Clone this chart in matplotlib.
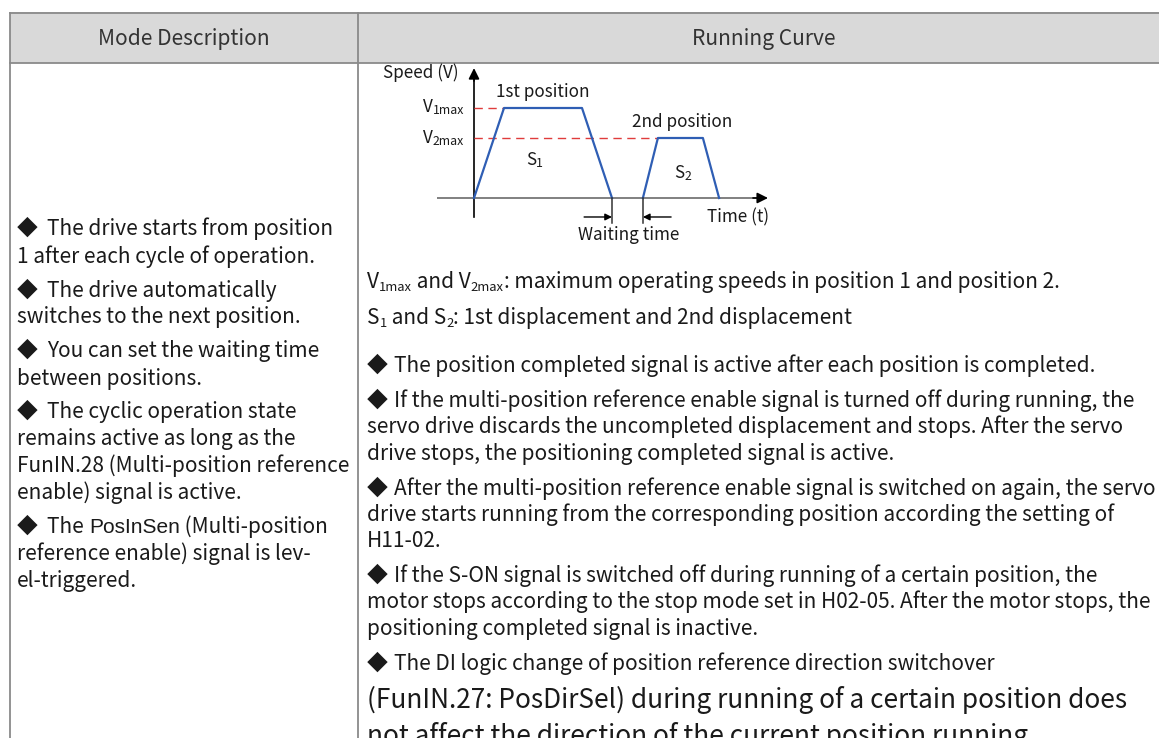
import matplotlib
matplotlib.use("Agg")
import matplotlib.pyplot as plt
from matplotlib.font_manager import FontProperties

W, H = 1159, 738
FONT = ['Noto Sans CJK SC', 'DejaVu Sans']
ARIAL = ['Liberation Sans', 'DejaVu Sans']

# ---------------- data ----------------
headers = ["Mode Description", "Running Curve"]

seg1_t = [0.0, 1.0, 3.6, 4.6]
seg1_v = [0.0, 3.0, 3.0, 0.0]
seg2_t = [5.63, 6.13, 7.63, 8.17]
seg2_v = [0.0, 2.0, 2.0, 0.0]
v1max = 3.0
v2max = 2.0
wait_start = 4.6
wait_end = 5.63

left_lines = [
    [("◆ The drive starts from position", "n")],
    [("1 after each cycle of operation.", "n")],
    [("◆ The drive automatically", "n")],
    [("switches to the next position.", "n")],
    [("◆ You can set the waiting time", "n")],
    [("between positions.", "n")],
    [("◆ The cyclic operation state", "n")],
    [("remains active as long as the", "n")],
    [("FunIN.28 (Multi-position reference", "n")],
    [("enable) signal is active.", "n")],
    [("◆ The ", "n"), ("PosInSen", "a"), (" (Multi-position", "n")],
    [("reference enable) signal is lev-", "n")],
    [("el-triggered.", "n")],
]
right_lines = [
    [("V", "n"), ("1max", "s"), (" and V", "n"), ("2max", "s"),
     (": maximum operating speeds in position 1 and position 2.", "n")],
    [("S", "n"), ("1", "s"), (" and S", "n"), ("2", "s"), (": 1st displacement and 2nd displacement", "n")],
    [("◆ The position completed signal is active after each position is completed.", "n")],
    [("◆ If the multi-position reference enable signal is turned off during running, the", "n")],
    [("servo drive discards the uncompleted displacement and stops. After the servo", "n")],
    [("drive stops, the positioning completed signal is active.", "n")],
    [("◆ After the multi-position reference enable signal is switched on again, the servo", "n")],
    [("drive starts running from the corresponding position according the setting of", "n")],
    [("H11-02.", "n")],
    [("◆ If the S-ON signal is switched off during running of a certain position, the", "n")],
    [("motor stops according to the stop mode set in H02-05. After the motor stops, the", "n")],
    [("positioning completed signal is inactive.", "n")],
    [("◆ The DI logic change of position reference direction switchover", "n")],
    [("(FunIN.27: PosDirSel) during running of a certain position does", "n")],
    [("not affect the direction of the current position running.", "n")],
]

# ---------------- layout ----------------
left_base = [235, 263, 297, 323, 357, 385, 418, 445, 472, 499, 533, 560, 587]
right_base = [288, 324, 372, 407, 433, 460, 495, 521, 547, 582, 608, 635, 670, 708, 744]
right_size = [15.05] * 13 + [18.9, 18.9]

fig = plt.figure(figsize=(W / 100, H / 100), dpi=100)
renderer = fig.canvas.get_renderer()

TXT = '#1a1a1a'
LINE = '#8a8a8a'


def fx(x):
    return x / W


def fy(y):
    return 1 - y / H


def width(s, prop):
    a = renderer.get_text_width_height_descent("|" + s + "|", prop, False)[0]
    b = renderer.get_text_width_height_descent("||", prop, False)[0]
    return a - b


def rich(x, y, segs, size, color=TXT, sub=0.62, bullet_gap=0.0):
    cx = x
    for txt, kind in segs:
        if kind == 's':
            fam, sz, dy = FONT, size * sub, size * 0.17
        elif kind == 'a':
            fam, sz, dy = ARIAL, size * 1.0, 0
        else:
            fam, sz, dy = FONT, size, 0
        prop = FontProperties(family=fam, size=sz)
        if bullet_gap and txt.startswith("◆ "):
            fig.text(fx(cx), fy(y), "◆", fontproperties=prop, color=color,
                     ha='left', va='baseline')
            cx += width("◆ ", prop) + bullet_gap
            txt = txt[2:]
        fig.text(fx(cx), fy(y + dy), txt, fontproperties=prop, color=color,
                 ha='left', va='baseline')
        cx += width(txt, prop)


# table
TOP, HB, LX, DX = 12.5, 63, 9.5, 358
fig.patches.append(plt.Rectangle((fx(LX), fy(HB)), fx(1159) - fx(LX), fy(TOP) - fy(HB),
                                 transform=fig.transFigure, facecolor='#d9d9d9',
                                 edgecolor='none', zorder=0))
for (x0, y0, x1, y1) in [(LX, TOP, 1159, TOP), (LX, HB, 1159, HB),
                         (LX, TOP, LX, 738), (DX, TOP, DX, 738)]:
    fig.add_artist(plt.Line2D([fx(x0), fx(x1)], [fy(y0), fy(y1)], color=LINE, lw=1.3,
                              transform=fig.transFigure))

fig.text(fx(184), fy(45.5), headers[0], family=FONT, fontsize=15.1, color='#333333',
         ha='center', va='baseline')
fig.text(fx(764), fy(45.5), headers[1], family=FONT, fontsize=15.1, color='#333333',
         ha='center', va='baseline')

for segs, b in zip(left_lines, left_base):
    rich(17, b, segs, 15.0, bullet_gap=5)
for segs, b, s in zip(right_lines, right_base, right_size):
    rich(367, b, segs, s, bullet_gap=2)

# ---------------- diagram ----------------
ax = fig.add_axes([fx(430), fy(250), (350) / W, (190) / H])
ax.set_xlim(-44 / 30, 306 / 30)
ax.set_ylim(-52 / 30, 138 / 30)
ax.axis('off')

BLUE = '#2f5eb4'
RED = '#e03c3c'

# axes
ax.plot([-37 / 30, 9.55], [0, 0], color='#808080', lw=1.4, solid_capstyle='butt')
ax.annotate('', xy=(9.8, 0), xytext=(9.3, 0),
            arrowprops=dict(arrowstyle='-|>', color='black', lw=1.2, mutation_scale=16,
                            shrinkA=0, shrinkB=0))
ax.plot([0, 0], [-0.63, 4.0], color='black', lw=1.2)
ax.annotate('', xy=(0, 4.33), xytext=(0, 3.9),
            arrowprops=dict(arrowstyle='-|>', color='black', lw=1.2, mutation_scale=16,
                            shrinkA=0, shrinkB=0))

# reference dashes
ax.plot([0, seg1_t[1]], [v1max, v1max], color=RED, lw=1.0, dashes=(6, 4))
ax.plot([0, seg2_t[1]], [v2max, v2max], color=RED, lw=1.0, dashes=(6, 4))

# curves
ax.plot(seg1_t, seg1_v, color=BLUE, lw=1.6)
ax.plot(seg2_t, seg2_v, color=BLUE, lw=1.6)

# waiting time markers
for t in (wait_start, wait_end):
    ax.plot([t, t], [0, -0.83], color='#333333', lw=1.1)
ax.annotate('', xy=(wait_start, -0.633), xytext=(wait_start - 0.93, -0.633),
            arrowprops=dict(arrowstyle='-|>', color='black', lw=1.0, mutation_scale=10,
                            shrinkA=0, shrinkB=0))
ax.annotate('', xy=(wait_end, -0.633), xytext=(wait_end + 0.94, -0.633),
            arrowprops=dict(arrowstyle='-|>', color='black', lw=1.0, mutation_scale=10,
                            shrinkA=0, shrinkB=0))

DS = 12.3
rich(383, 78, [("Speed (V)", "n")], DS)
rich(496, 97, [("1st position", "n")], DS)
rich(632, 127, [("2nd position", "n")], DS)
rich(423, 112, [("V", "n"), ("1max", "s")], DS, sub=0.72)
rich(423, 143, [("V", "n"), ("2max", "s")], DS, sub=0.72)
rich(526, 165, [("S", "n"), ("1", "s")], DS, sub=0.72)
rich(674, 178, [("S", "n"), ("2", "s")], DS, sub=0.72)
rich(707, 222, [("Time (t)", "n")], DS)
rich(578, 240, [("Waiting time", "n")], DS)

fig.savefig('out.png', dpi=100)
